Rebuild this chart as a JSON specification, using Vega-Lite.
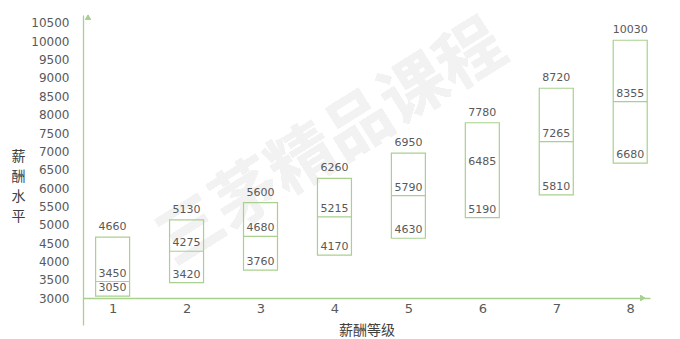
{
  "$schema": "https://vega.github.io/schema/vega-lite/v6.json",
  "autosize": "none",
  "width": 567,
  "height": 310,
  "padding": {"left": 83, "top": 15, "right": 30, "bottom": 14},
  "background": "white",
  "config": {
    "view": {"stroke": null},
    "font": "DejaVu Sans"
  },
  "data": {
    "values": [
      {"level": 1, "min": 3050, "mid": 3450, "max": 4660},
      {"level": 2, "min": 3420, "mid": 4275, "max": 5130},
      {"level": 3, "min": 3760, "mid": 4680, "max": 5600},
      {"level": 4, "min": 4170, "mid": 5215, "max": 6260},
      {"level": 5, "min": 4630, "mid": 5790, "max": 6950},
      {"level": 6, "min": 5190, "mid": 6485, "max": 7780},
      {"level": 7, "min": 5810, "mid": 7265, "max": 8720},
      {"level": 8, "min": 6680, "mid": 8355, "max": 10030}
    ]
  },
  "encoding": {
    "x": {
      "field": "level",
      "type": "quantitative",
      "scale": {"domain": [0.667, 8.2], "nice": false, "zero": false},
      "axis": {
        "values": [1, 2, 3, 4, 5, 6, 7, 8],
        "format": "d",
        "offset": -27,
        "grid": false,
        "ticks": false,
        "domainColor": "#a9d08e",
        "domainWidth": 1.3,
        "labelFontSize": 13,
        "labelColor": "#595959",
        "labelPadding": 4,
        "title": "薪酬等级",
        "titleFont": "Noto Sans CJK SC",
        "titleFontSize": 14,
        "titleFontWeight": "normal",
        "titleColor": "#404040",
        "titlePadding": 8
      }
    },
    "y": {
      "field": "min",
      "type": "quantitative",
      "scale": {"domain": [2264, 10718], "nice": false, "zero": false},
      "axis": {
        "values": [3000, 3500, 4000, 4500, 5000, 5500, 6000, 6500, 7000, 7500, 8000, 8500, 9000, 9500, 10000, 10500],
        "format": "d",
        "grid": false,
        "ticks": false,
        "domainColor": "#a9d08e",
        "domainWidth": 1.3,
        "labelFontSize": 12,
        "labelColor": "#595959",
        "labelPadding": 14,
        "title": ["薪", "酬", "水", "平"],
        "titleFont": "Noto Sans CJK SC",
        "titleFontSize": 14,
        "titleFontWeight": "normal",
        "titleColor": "#404040",
        "titleAngle": 0,
        "titleAlign": "center",
        "titleBaseline": "middle",
        "titleLineHeight": 20,
        "titleX": -65,
        "titleY": 141
      }
    }
  },
  "layer": [
    {
      "mark": {
        "type": "text",
        "text": "三茅精品课程",
        "font": "Noto Sans CJK SC",
        "fontSize": 66,
        "fontWeight": "bold",
        "angle": -32,
        "color": "#f2f2f2",
        "align": "center",
        "baseline": "middle"
      },
      "encoding": {
        "x": {"datum": 3.96},
        "y": {"datum": 7200}
      }
    },
    {
      "mark": {"type": "bar", "width": 34, "fill": "white", "fillOpacity": 0, "stroke": "#a9d08e", "strokeWidth": 1.2},
      "encoding": {
        "y2": {"field": "max"}
      }
    },
    {
      "transform": [{"filter": "datum.level != 6"}],
      "mark": {"type": "rule", "color": "#a9d08e", "strokeWidth": 1.2, "xOffset": -17, "x2Offset": 17},
      "encoding": {
        "x2": {"field": "level"},
        "y": {"field": "mid", "type": "quantitative"}
      }
    },
    {
      "mark": {"type": "text", "fontSize": 11, "color": "#595959", "baseline": "middle", "dy": -10},
      "encoding": {
        "y": {"field": "max", "type": "quantitative"},
        "text": {"field": "max", "type": "nominal"}
      }
    },
    {
      "mark": {"type": "text", "fontSize": 11, "color": "#595959", "baseline": "middle", "dy": -8},
      "encoding": {
        "y": {"field": "mid", "type": "quantitative"},
        "text": {"field": "mid", "type": "nominal"}
      }
    },
    {
      "mark": {"type": "text", "fontSize": 11, "color": "#595959", "baseline": "middle", "dy": -8},
      "encoding": {
        "text": {"field": "min", "type": "nominal"}
      }
    },
    {
      "mark": {"type": "point", "shape": "triangle-up", "filled": true, "color": "#a9d08e", "size": 28, "opacity": 1},
      "encoding": {
        "x": {"datum": 0.667},
        "y": {"datum": 10660}
      }
    },
    {
      "mark": {"type": "point", "shape": "triangle-right", "filled": true, "color": "#a9d08e", "size": 28, "opacity": 1},
      "encoding": {
        "x": {"datum": 8.17},
        "y": {"datum": 3000}
      }
    }
  ]
}
